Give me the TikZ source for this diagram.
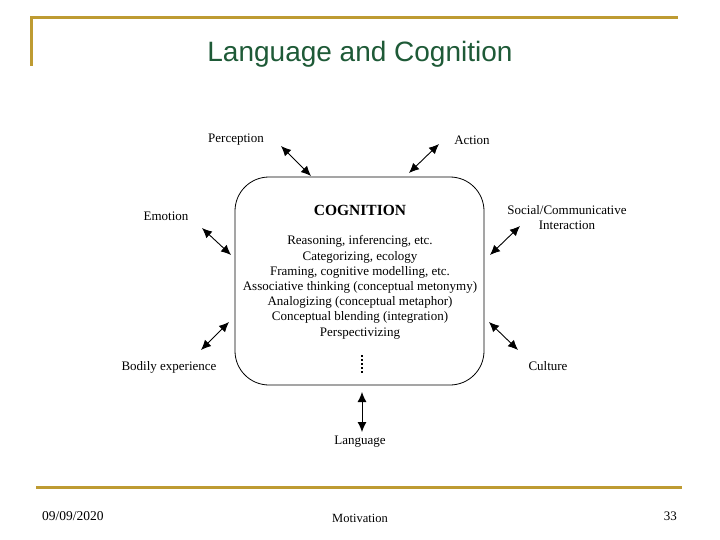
\documentclass[tikz,border=0pt]{standalone}
\usepackage{fontspec}
\setmainfont{Liberation Serif}
\newfontfamily\titlefont{Liberation Sans}
\usetikzlibrary{arrows.meta}
\definecolor{gold}{RGB}{190,155,50}
\definecolor{titlegreen}{RGB}{30,90,55}
\tikzset{
  lbl/.style={font=\fontsize{13}{15}\selectfont, inner sep=0pt, align=center},
  biarrow/.style={line width=0.9pt, {Latex[length=10pt,width=9pt]}-{Latex[length=10pt,width=9pt]}},
  rule/.style={gold, line width=3pt},
}
\begin{document}
\begin{tikzpicture}[x=1pt,y=-1pt]
\useasboundingbox[fill=white] (0,0) rectangle (720,540);
% frame rules
\draw[rule] (31,66) -- (31,18) -- (678,18);
\draw[rule] (36,487) -- (682,487);
\node[font=\titlefont\fontsize{28}{30}\selectfont, text=titlegreen] (title) at (360,54) {Language and Cognition};
% footer
\node[font=\fontsize{13.5}{15}\selectfont, anchor=west, inner sep=0pt] (date) at (42,516) {09/09/2020};
\node[font=\fontsize{12.5}{14}\selectfont, inner sep=0pt] (foot) at (360,518) {Motivation};
\node[font=\fontsize{13}{14}\selectfont, anchor=east, inner sep=0pt] (page) at (677,516) {33};
% cognition box
\node[draw, thick, rounded corners=34pt, minimum width=249pt, minimum height=208pt] (box) at (359.5,281) {};
\node[font=\bfseries\fontsize{15.5}{17}\selectfont, inner sep=0pt] (cog) at (360,210) {COGNITION};
\node[lbl, font=\fontsize{13}{15.2}\selectfont, anchor=north] (list) at (360,235.5) {Reasoning, inferencing, etc.\\Categorizing, ecology\\Framing, cognitive modelling, etc.\\Associative thinking (conceptual metonymy)\\Analogizing (conceptual metaphor)\\Conceptual blending (integration)\\Perspectivizing};
\coordinate (d1) at (362,355); \coordinate (d2) at (362,373);
\draw[line width=1.6pt, dash pattern=on 1.6pt off 2.4pt] (d1) -- (d2);
% outer labels
\node[lbl] (perc) at (236,140) {Perception};
\node[lbl] (act) at (472,140) {Action};
\node[lbl] (emo) at (166,216) {Emotion};
\node[lbl, font=\fontsize{13}{15}\selectfont] (soc) at (567,218) {Social/Communicative\\Interaction};
\node[lbl] (body) at (169,367) {Bodily experience};
\node[lbl] (cult) at (548,366) {Culture};
\node[lbl] (lang) at (360,442) {Language};
% arrow end points
\coordinate (p1) at (281,146); \coordinate (p2) at (311,176);
\coordinate (a1) at (439,144); \coordinate (a2) at (409,173);
\coordinate (e1) at (202,228); \coordinate (e2) at (231,255);
\coordinate (s1) at (520,226); \coordinate (s2) at (490,255);
\coordinate (b1) at (201,350); \coordinate (b2) at (229,322);
\coordinate (c1) at (489,322); \coordinate (c2) at (518,350);
\coordinate (l1) at (362,392); \coordinate (l2) at (362,432);
\draw[biarrow] (p1) -- (p2);
\draw[biarrow] (a1) -- (a2);
\draw[biarrow] (e1) -- (e2);
\draw[biarrow] (s1) -- (s2);
\draw[biarrow] (b1) -- (b2);
\draw[biarrow] (c1) -- (c2);
\draw[biarrow] (l1) -- (l2);
\end{tikzpicture}
\end{document}
